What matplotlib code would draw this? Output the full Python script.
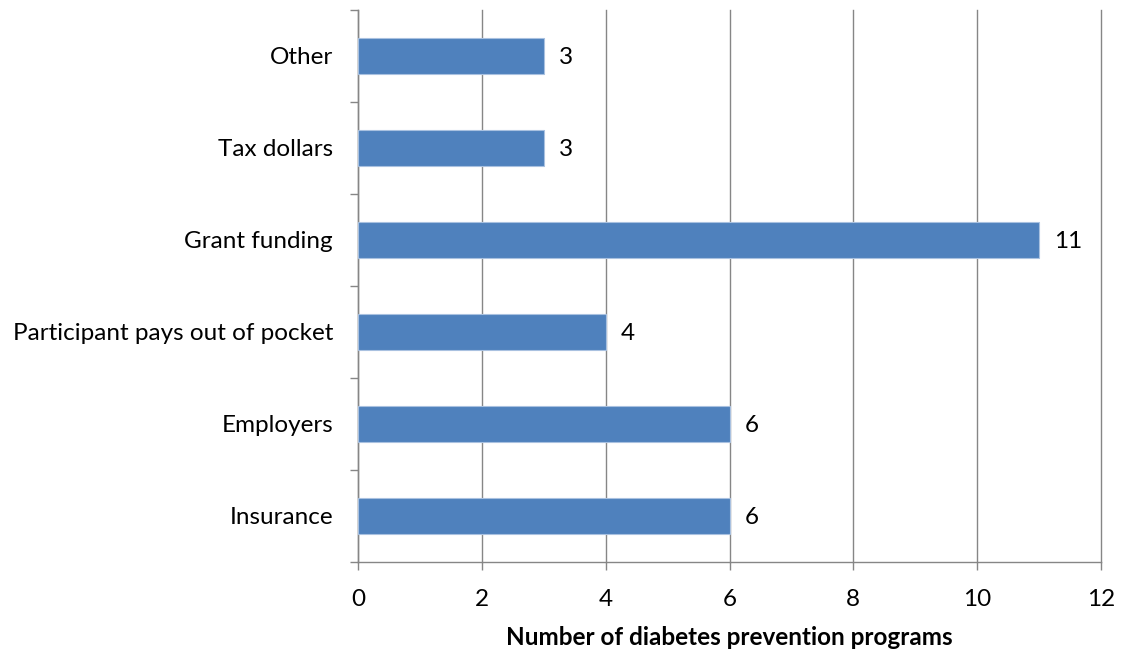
import matplotlib
matplotlib.use("Agg")
import matplotlib.pyplot as plt
from matplotlib.ticker import FixedLocator

categories = ["Insurance", "Employers", "Participant pays out of pocket",
              "Grant funding", "Tax dollars", "Other"]
values = [6, 6, 4, 11, 3, 3]
xticks = [0, 2, 4, 6, 8, 10, 12]
xlabel = "Number of diabetes prevention programs"

plt.rcParams['font.family'] = ['Lato', 'DejaVu Sans']
FS = 17.5

fig = plt.figure(figsize=(11.22, 6.54), dpi=100)
ax = fig.add_axes([358/1122, 92/654, (1101-358)/1122, (562-10)/654])

pos = list(range(len(categories)))
ax.barh(pos, values, height=0.39, color="#4F81BD", edgecolor="#A9C1E0",
        linewidth=0.8, zorder=3)
for p, v in zip(pos, values):
    ax.annotate(str(v), (v, p), xytext=(11, 0), textcoords="offset points",
                va="center_baseline", ha="left", fontsize=FS, color="black")

ax.set_xlim(xticks[0], xticks[-1])
ax.set_ylim(-0.5, len(categories) - 0.5)
ax.set_xticks(xticks)
ax.set_xticklabels([str(t) for t in xticks], fontsize=FS, va='baseline')
ax.set_yticks(pos)
ax.set_yticklabels(categories, fontsize=FS)
ax.yaxis.set_minor_locator(FixedLocator([i - 0.5 for i in range(len(categories) + 1)]))
ax.tick_params(axis='y', which='major', length=0, pad=18)
ax.tick_params(axis='y', which='minor', length=6, color="#868686", width=1)
ax.tick_params(axis='x', which='major', length=6, color="#868686", width=1,
               pad=25.7)
ax.grid(axis='x', color="#868686", linewidth=1, zorder=0)
for gl in ax.get_xgridlines():
    gl.set_clip_on(False)
for s in ['top', 'right']:
    ax.spines[s].set_visible(False)
for s in ['left', 'bottom']:
    ax.spines[s].set_color("#868686")
    ax.spines[s].set_linewidth(1)
ax.set_xlabel(xlabel, fontsize=FS, fontweight='bold', va='baseline')
ax.xaxis.set_label_coords(0.5, -83/552)

fig.savefig("out.png", dpi=100)
